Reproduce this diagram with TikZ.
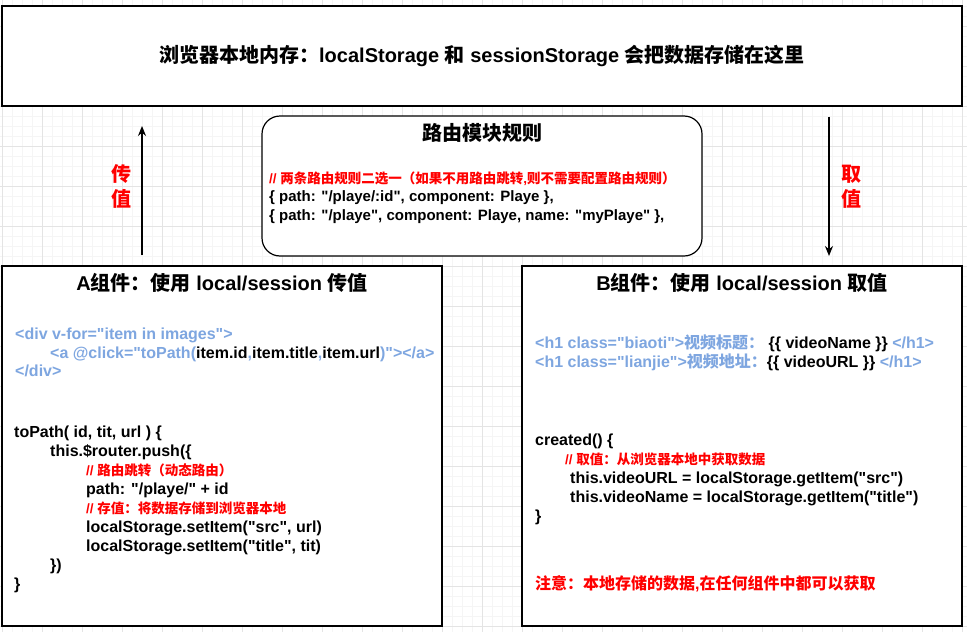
\documentclass[tikz,border=0pt]{standalone}
\usepackage{fontspec}
\setmainfont{Liberation Sans}[Ligatures=TeXOff]
\newfontfamily\cjkfont{Noto Sans CJK SC}
\usepackage{tikz}
\usetikzlibrary{arrows.meta}
\usepackage{xcolor}
\definecolor{tagblue}{RGB}{126,166,224}
\definecolor{notered}{RGB}{255,0,0}
\definecolor{gridminor}{RGB}{245,245,245}
\definecolor{gridmajor}{RGB}{228,228,228}
\newcommand{\zh}[1]{{\cjkfont #1}}
\newcommand{\fs}[1]{\fontsize{#1}{#1}\selectfont\bfseries}

\tikzset{
  panel/.style={draw=black, line width=1.2pt, fill=white, inner sep=0pt},
  title/.style={anchor=base, inner sep=0pt, font=\fs{20}},
  code/.style={anchor=base west, inner sep=0pt, font=\fs{16}},
  tag/.style={code, text=tagblue},
  remark/.style={anchor=base west, inner sep=0pt, text=notered, font=\fs{13.5}},
  sidelabel/.style={text=notered, align=center, inner sep=0pt, font={\fontsize{20}{25}\selectfont\bfseries}},
  flow/.style={line width=1.2pt, -{Stealth[length=10pt, width=8pt]}},
}

\begin{document}
\begin{tikzpicture}[x=1pt, y=-1pt]
  \useasboundingbox (0,0) rectangle (967,632);
  \fill[white] (0,0) rectangle (967,632);
  % background grid
  \foreach \gx in {2,12,...,962} \draw[gridminor, line width=1pt] (\gx,0) -- (\gx,632);
  \foreach \gy in {6,16,...,626} \draw[gridminor, line width=1pt] (0,\gy) -- (967,\gy);
  \foreach \gx in {2,42,...,962} \draw[gridmajor, line width=1pt] (\gx,0) -- (\gx,632);
  \foreach \gy in {26,66,...,626} \draw[gridmajor, line width=1pt] (0,\gy) -- (967,\gy);

  % browser storage
  \node[panel, minimum width=960pt, minimum height=100pt, font=\fs{20}] (store) at (482,56)
    {\zh{浏览器本地内存：}localStorage \zh{和} sessionStorage \zh{会把数据存储在这里}};

  % router rules
  \node[panel, rounded corners=18pt, minimum width=440pt, minimum height=140pt] (route) at (482,186) {};
  \node[title] (routeTitle) at (482,140.5) {\zh{路由模块规则}};
  \node[remark] (r1) at (269,183) {// \zh{两条路由规则二选一（如果不用路由跳转},\zh{则不需要配置路由规则）}};
  \node[code, font=\fs{15}] (r2) at (269,201.5) {\{ path: "/playe/:id", component: Playe \},};
  \node[code, font=\fs{15}] (r3) at (269,220.5) {\{ path: "/playe", component: Playe, name: "myPlaye" \},};

  % component A
  \node[panel, minimum width=440pt, minimum height=360pt] (compA) at (222,446) {};
  \node[title] (aTitle) at (222,290.5) {A\zh{组件：使用} local/session \zh{传值}};
  \node[tag] (a1) at (15,339) {<div v-for="item in images">};
  \node[tag] (a2) at (50,358) {<a @click="toPath(\textcolor{black}{item.id},\textcolor{black}{item.title},\textcolor{black}{item.url})"></a>};
  \node[tag] (a3) at (15,376.5) {</div>};
  \node[code] (a4) at (14,437) {toPath( id, tit, url ) \{};
  \node[code] (a5) at (50,456) {this.\$router.push(\{};
  \node[remark] (a6) at (86,475) {// \zh{路由跳转（动态路由）}};
  \node[code] (a7) at (86,494) {path: "/playe/" + id};
  \node[remark] (a8) at (86,513) {// \zh{存值：将数据存储到浏览器本地}};
  \node[code] (a9) at (86,532) {localStorage.setItem("src", url)};
  \node[code] (a10) at (86,551) {localStorage.setItem("title", tit)};
  \node[code] (a11) at (50,570) {\})};
  \node[code] (a12) at (14,589) {\}};

  % component B
  \node[panel, minimum width=440pt, minimum height=360pt] (compB) at (742,446) {};
  \node[title] (bTitle) at (742,290.5) {B\zh{组件：使用} local/session \zh{取值}};
  \node[tag] (b1) at (535,348) {<h1 class="biaoti">\zh{视频标题：} \textcolor{black}{\{\{ videoName \}\}} </h1>};
  \node[tag] (b2) at (535,367.5) {<h1 class="lianjie">\zh{视频地址：}\textcolor{black}{\{\{ videoURL \}\}} </h1>};
  \node[code] (b3) at (535,445) {created() \{};
  \node[remark] (b4) at (565,464) {// \zh{取值：从浏览器本地中获取数据}};
  \node[code] (b5) at (570,483) {this.videoURL = localStorage.getItem("src")};
  \node[code] (b6) at (570,502) {this.videoName = localStorage.getItem("title")};
  \node[code] (b7) at (535,521) {\}};
  \node[code, text=notered] (b8) at (535,589) {\zh{注意：本地存储的数据},\zh{在任何组件中都可以获取}};

  % data flow
  \coordinate (upTip) at (142,126);
  \coordinate (downTip) at (829,256);
  \draw[flow, shorten <=10pt] (compA.north -| upTip) -- (upTip);
  \draw[flow, shorten <=10pt] (store.south -| downTip) -- (downTip);
  \node[sidelabel] (send) at (121,186) {\zh{传}\\\zh{值}};
  \node[sidelabel] (fetch) at (851,187) {\zh{取}\\\zh{值}};
\end{tikzpicture}
\end{document}
